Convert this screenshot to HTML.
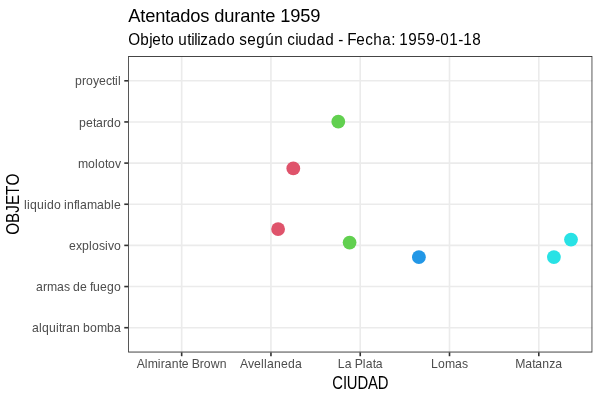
<!DOCTYPE html>
<html><head><meta charset="utf-8"><title>Atentados durante 1959</title>
<style>html,body{margin:0;padding:0;background:#fff}svg{display:block}text{font-family:"Liberation Sans",Arial,Helvetica,sans-serif;white-space:pre;font-variant-ligatures:none;font-kerning:none;font-feature-settings:"liga" 0,"kern" 0,"clig" 0}</style></head><body>
<svg width="600" height="400" viewBox="0 0 600 400">
<rect width="600" height="400" fill="#fff"/>
<g stroke="#EBEBEB" stroke-width="1.62" fill="none">
<line x1="128.1" x2="592.36" y1="327.71" y2="327.71"/>
<line x1="128.1" x2="592.36" y1="286.56" y2="286.56"/>
<line x1="128.1" x2="592.36" y1="245.40" y2="245.40"/>
<line x1="128.1" x2="592.36" y1="204.25" y2="204.25"/>
<line x1="128.1" x2="592.36" y1="163.10" y2="163.10"/>
<line x1="128.1" x2="592.36" y1="121.94" y2="121.94"/>
<line x1="128.1" x2="592.36" y1="80.79" y2="80.79"/>
<line y1="56.1" y2="352.4" x1="181.67" x2="181.67"/>
<line y1="56.1" y2="352.4" x1="270.95" x2="270.95"/>
<line y1="56.1" y2="352.4" x1="360.23" x2="360.23"/>
<line y1="56.1" y2="352.4" x1="449.51" x2="449.51"/>
<line y1="56.1" y2="352.4" x1="538.79" x2="538.79"/>
</g>
<circle cx="338.3" cy="121.7" r="6.9" fill="#61D04F"/>
<circle cx="293.3" cy="168.4" r="6.9" fill="#DF536B"/>
<circle cx="278.1" cy="229.1" r="6.9" fill="#DF536B"/>
<circle cx="349.6" cy="242.6" r="6.9" fill="#61D04F"/>
<circle cx="418.9" cy="257.2" r="6.9" fill="#2297E6"/>
<circle cx="553.9" cy="257.1" r="6.9" fill="#28E2E5"/>
<circle cx="571.0" cy="239.6" r="6.9" fill="#28E2E5"/>
<clipPath id="pc"><rect x="128.1" y="56.1" width="464.26" height="296.30"/></clipPath>
<rect x="128.1" y="56.1" width="464.26" height="296.30" fill="none" stroke="#333333" stroke-width="1.62" clip-path="url(#pc)"/>
<g stroke="#333333" stroke-width="1.62">
<line x1="124.28" x2="128.1" y1="327.71" y2="327.71"/>
<line x1="124.28" x2="128.1" y1="286.56" y2="286.56"/>
<line x1="124.28" x2="128.1" y1="245.40" y2="245.40"/>
<line x1="124.28" x2="128.1" y1="204.25" y2="204.25"/>
<line x1="124.28" x2="128.1" y1="163.10" y2="163.10"/>
<line x1="124.28" x2="128.1" y1="121.94" y2="121.94"/>
<line x1="124.28" x2="128.1" y1="80.79" y2="80.79"/>
<line y1="352.4" y2="356.22" x1="181.67" x2="181.67"/>
<line y1="352.4" y2="356.22" x1="270.95" x2="270.95"/>
<line y1="352.4" y2="356.22" x1="360.23" x2="360.23"/>
<line y1="352.4" y2="356.22" x1="449.51" x2="449.51"/>
<line y1="352.4" y2="356.22" x1="538.79" x2="538.79"/>
</g>
<text x="32.12 39.12 42.12 49.12 56.12 59.12 62.12 66.12 73.12 80.12 83.12 90.12 97.12 107.12 114.12" y="332.16" font-size="12.22" fill="#4D4D4D">alquitran bomba</text>
<text x="36.12 43.12 47.12 57.12 64.12 70.12 73.12 80.12 87.12 90.12 93.12 100.12 107.12 114.12" y="291.01" font-size="12.22" fill="#4D4D4D">armas de fuego</text>
<text x="69.12 76.12 82.12 89.12 92.12 99.12 105.12 108.12 114.12" y="249.85" font-size="12.22" fill="#4D4D4D">explosivo</text>
<text x="24.12 27.12 30.12 37.12 44.12 47.12 54.12 61.12 64.12 67.12 74.12 77.12 80.12 87.12 97.12 104.12 111.12 114.12" y="208.70" font-size="12.22" fill="#4D4D4D">liquido inflamable</text>
<text x="78.12 88.12 95.12 98.12 105.12 108.12 115.12" y="167.50" font-size="12.22" fill="#4D4D4D">molotov</text>
<text x="79.12 86.12 93.12 96.12 103.12 107.12 114.12" y="127.14" font-size="12.22" fill="#4D4D4D">petardo</text>
<text x="75.12 82.12 86.12 93.12 99.12 106.12 112.12 115.12 118.12" y="85.19" font-size="12.22" fill="#4D4D4D">proyectil</text>
<text x="136.67 144.67 147.67 157.67 160.67 164.67 171.67 178.67 181.67 188.67 191.67 199.67 203.67 210.67 219.67" y="368.00" font-size="12.22" fill="#4D4D4D">Almirante Brown</text>
<text x="239.95 247.95 253.95 260.95 263.95 266.95 273.95 280.95 287.95 294.95" y="368.00" font-size="12.22" fill="#4D4D4D">Avellaneda</text>
<text x="337.73 344.73 351.73 354.73 362.73 365.73 372.73 375.73" y="368.00" font-size="12.22" fill="#4D4D4D">La Plata</text>
<text x="431.01 438.01 445.01 455.01 462.01" y="368.00" font-size="12.22" fill="#4D4D4D">Lomas</text>
<text x="515.29 525.29 532.29 535.29 542.29 549.29 555.29" y="368.00" font-size="12.22" fill="#4D4D4D">Matanza</text>
<text x="-29 -18 -14 -3 8 18" y="0.00" font-size="15.28" fill="#000" transform="translate(360.33,388.60) scale(0.97,1.15)">CIUDAD</text>
<text x="-30.56 -18.68 -8.49 -0.85 9.34 18.68" y="0.00" font-size="15.28" fill="#000" transform="translate(18.5,204.25) rotate(-90) scale(1,1.15)">OBJETO</text>
<text x="0 12 17 27 37 42 52 62 72 81 86 96 106 112 122 132 137 147 152 162 172 182" y="0.00" font-size="18.33" fill="#000" transform="translate(128.30,21.50) scale(1.0,1.03)">Atentados durante 1959</text>
<text x="0 12 21 24 33 37 46 50 59 63 66 69 72 80 89 98 107 111 119 128 137 146 155 159 167 170 179 188 197 206 210 215 219 228 237 245 254 263 267 271 280 289 298 307 312 321 330 335 344" y="0.00" font-size="15.28" fill="#000" transform="translate(128.30,44.90) scale(1.0,1.05)">Objeto utilizado según ciudad - Fecha: 1959-01-18</text>
</svg></body></html>
